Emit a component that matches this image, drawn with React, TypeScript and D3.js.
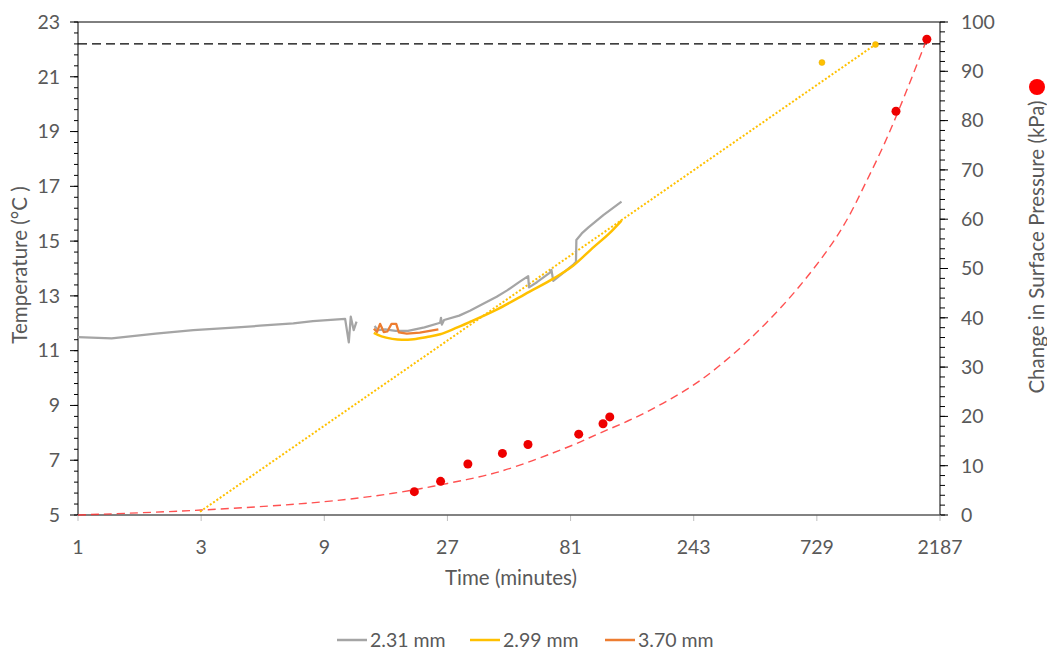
import React from 'react';
import * as d3 from 'd3';

// ---------- data ----------
const timeTicks = [1, 3, 9, 27, 81, 243, 729, 2187];
const tempTicks = [5, 7, 9, 11, 13, 15, 17, 19, 21, 23];
const pressTicks = [0, 10, 20, 30, 40, 50, 60, 70, 80, 90, 100];

// 2.31 mm (two recorded segments) [time (min), temperature (°C)]
const gray231a: [number, number][] = [
  [1.0, 11.49], [1.35, 11.45], [2.0, 11.62], [2.8, 11.75], [4.0, 11.84], [5.07, 11.91],
  [6.83, 12.0], [8.13, 12.08], [10.84, 12.16], [11.2, 11.3], [11.4, 12.24], [11.7, 11.75], [12.0, 12.06],
];
const gray231b: [number, number][] = [
  [14.1, 11.9], [14.5, 11.75], [15.5, 11.78], [17, 11.72], [19, 11.72], [22, 11.85], [25.3, 12.02],
  [25.5, 12.2], [25.7, 11.95], [26.2, 12.12], [30, 12.28], [33, 12.46], [37, 12.7], [41.9, 12.97],
  [46, 13.2], [51.5, 13.52], [55.5, 13.72], [55.9, 13.31], [60, 13.5], [67.4, 13.85], [68.3, 13.95],
  [69.4, 13.55], [75, 13.8], [82.8, 14.13], [85, 14.25], [85.3, 15.04], [89.5, 15.28], [95, 15.5],
  [108.5, 15.95], [127.6, 16.44],
];
// 2.99 mm
const yellow299: [number, number][] = [
  [14.0, 11.65], [15.0, 11.52], [16.5, 11.43], [18, 11.4], [20, 11.42], [22.5, 11.5], [25.3, 11.6],
  [29, 11.82], [33, 12.05], [41.9, 12.5], [56, 13.15], [70, 13.65], [82.8, 14.1], [100, 14.8],
  [115, 15.3], [127.6, 15.75],
];
const yellow299Markers: [number, number][] = [[763, 21.52], [1230, 22.18]];
const yellow299Trend: [number, number][] = [[2.97, 5.12], [1230, 22.18]];
// 3.70 mm
const orange370: [number, number][] = [
  [14.0, 11.8], [14.4, 11.68], [14.8, 11.98], [15.3, 11.68], [15.8, 11.7], [16.4, 11.98],
  [17.1, 11.98], [17.5, 11.67], [18.8, 11.62], [21.1, 11.66], [24.9, 11.78],
];
// reference temperature line
const refTemp = 22.2;

// Change in surface pressure [time (min), kPa]
const pressurePoints: [number, number][] = [
  [20.1, 4.73], [25.4, 6.83], [32.4, 10.34], [44.1, 12.5], [55.4, 14.3], [87.1, 16.4],
  [108.2, 18.5], [114.9, 19.9], [1477, 81.9], [1945, 96.5],
];
const pressureTrend: [number, number][] = [
  [1, 0], [3, 1.0], [9, 2.7], [16.6, 4.4], [27, 6.4], [43, 8.8], [81, 14.0], [105, 16.6],
  [142, 19.6], [191, 23.1], [256, 27.2], [345, 32.6], [463, 38.9], [622, 46.3], [836, 55.1],
  [970, 60.6], [1125, 67.3], [1318, 74.8], [1532, 82.8], [1945, 96.5],
];

const legendItems = [
  { label: '2.31 mm', color: '#A5A5A5' },
  { label: '2.99 mm', color: '#FFC000' },
  { label: '3.70 mm', color: '#ED7D31' },
];

// ---------- layout ----------
const W = 1047, H = 651;
const L = 78, R = 940, T = 22, B = 515;
const FONT = 'Lato, "Open Sans", sans-serif';
const TXT = '#595959';

export default function App() {
  const x = d3.scaleLog().base(3).domain([1, 2187]).range([L, R]);
  const yT = d3.scaleLinear().domain([5, 23]).range([B, T]);
  const yP = d3.scaleLinear().domain([0, 100]).range([B, T]);

  const lineT = d3.line<[number, number]>().x(d => x(d[0])).y(d => yT(d[1]));
  const lineTSmooth = d3.line<[number, number]>().x(d => x(d[0])).y(d => yT(d[1])).curve(d3.curveMonotoneX);
  const lineP = d3.line<[number, number]>().x(d => x(d[0])).y(d => yP(d[1])).curve(d3.curveCatmullRom.alpha(0.5));

  const tempMinor = d3.range(5, 23.001, 0.4);
  const pressMinor = d3.range(0, 100.001, 2);

  const legendX = [337, 470, 605];

  return (
    <svg width={W} height={H} style={{ position: 'absolute', left: 0, top: 0, background: '#fff' }} fontFamily={FONT}>
      {/* frame */}
      <line x1={L} x2={R} y1={T} y2={T} stroke="#000" strokeWidth={1} />
      <line x1={L} x2={L} y1={T} y2={B} stroke="#000" strokeWidth={1} />
      <line x1={R} x2={R} y1={T} y2={B} stroke="#000" strokeWidth={1} />

      {/* left axis ticks */}
      {tempMinor.map((v, i) => (
        <line key={'tm' + i} x1={L - 4} x2={L} y1={yT(v)} y2={yT(v)} stroke="#000" strokeWidth={1} />
      ))}
      {tempTicks.map(v => (
        <g key={'t' + v}>
          <line x1={L - 8} x2={L} y1={yT(v)} y2={yT(v)} stroke="#000" strokeWidth={1} />
          <text x={60} y={yT(v)} dy="0.35em" textAnchor="end" fontSize={19.5} fill={TXT}>{v}</text>
        </g>
      ))}

      {/* right axis ticks */}
      {pressMinor.map((v, i) => (
        <line key={'pm' + i} x1={R} x2={R + 5} y1={yP(v)} y2={yP(v)} stroke="#000" strokeWidth={1} />
      ))}
      {pressTicks.map(v => (
        <g key={'p' + v}>
          <line x1={R} x2={R + 8} y1={yP(v)} y2={yP(v)} stroke="#000" strokeWidth={1} />
          <text x={961} y={yP(v)} dy="0.35em" textAnchor="start" fontSize={19.5} fill={TXT}>{v}</text>
        </g>
      ))}

      {/* x axis */}
      {timeTicks.map(v => (
        <g key={'x' + v}>
          <line x1={x(v)} x2={x(v)} y1={B} y2={B + 6} stroke="#BFBFBF" strokeWidth={1} />
          <text x={x(v)} y={547} dy="0.35em" textAnchor="middle" fontSize={19.5} fill={TXT}>{v}</text>
        </g>
      ))}
      <line x1={L} x2={R} y1={B} y2={B} stroke="#595959" strokeWidth={1.5} />

      {/* axis titles */}
      <text x={511} y={578} dy="0.35em" textAnchor="middle" fontSize={20.5} fill={TXT}>Time (minutes)</text>
      <text transform={`translate(20,265) rotate(-90)`} dy="0.35em" textAnchor="middle" fontSize={20.5} fill={TXT}>Temperature (°C )</text>
      <text transform={`translate(1037,247) rotate(-90)`} dy="0.35em" textAnchor="middle" fontSize={20.5} fill={TXT}>Change in Surface Pressure (kPa)</text>
      <circle cx={1037} cy={87} r={8} fill="#FF0000" />

      {/* reference temperature */}
      <line x1={L} x2={R} y1={yT(refTemp)} y2={yT(refTemp)} stroke="#000" strokeWidth={1.25} strokeDasharray="9 5" />

      {/* pressure trend */}
      <path d={lineP(pressureTrend) || ''} fill="none" stroke="#FF3333" strokeOpacity={0.85} strokeWidth={1.4} strokeDasharray="8 5" />

      {/* 2.99 mm trend */}
      <path d={lineT(yellow299Trend) || ''} fill="none" stroke="#FFC000" strokeWidth={2} strokeDasharray="2 2" />

      {/* temperature series */}
      <path d={lineT(gray231a) || ''} fill="none" stroke="#A5A5A5" strokeWidth={2.25} strokeLinejoin="round" />
      <path d={lineT(gray231b) || ''} fill="none" stroke="#A5A5A5" strokeWidth={2.25} strokeLinejoin="round" />
      <path d={lineTSmooth(yellow299) || ''} fill="none" stroke="#FFC000" strokeWidth={2.5} />
      <path d={lineT(orange370) || ''} fill="none" stroke="#ED7D31" strokeWidth={2.25} strokeLinejoin="round" />

      {yellow299Markers.map((d, i) => (
        <circle key={'ym' + i} cx={x(d[0])} cy={yT(d[1])} r={3} fill="#FFC000" stroke="#E5AC00" strokeWidth={0.5} />
      ))}

      {/* pressure points */}
      {pressurePoints.map((d, i) => (
        <circle key={'pp' + i} cx={x(d[0])} cy={yP(d[1])} r={4.5} fill="#EE0000" />
      ))}

      {/* legend */}
      {legendItems.map((it, i) => (
        <g key={it.label}>
          <line x1={legendX[i]} x2={legendX[i] + 30} y1={640} y2={640} stroke={it.color} strokeWidth={2.5} />
          <text x={legendX[i] + 33} y={640} dy="0.35em" fontSize={19.5} fill={TXT}>{it.label}</text>
        </g>
      ))}
    </svg>
  );
}
